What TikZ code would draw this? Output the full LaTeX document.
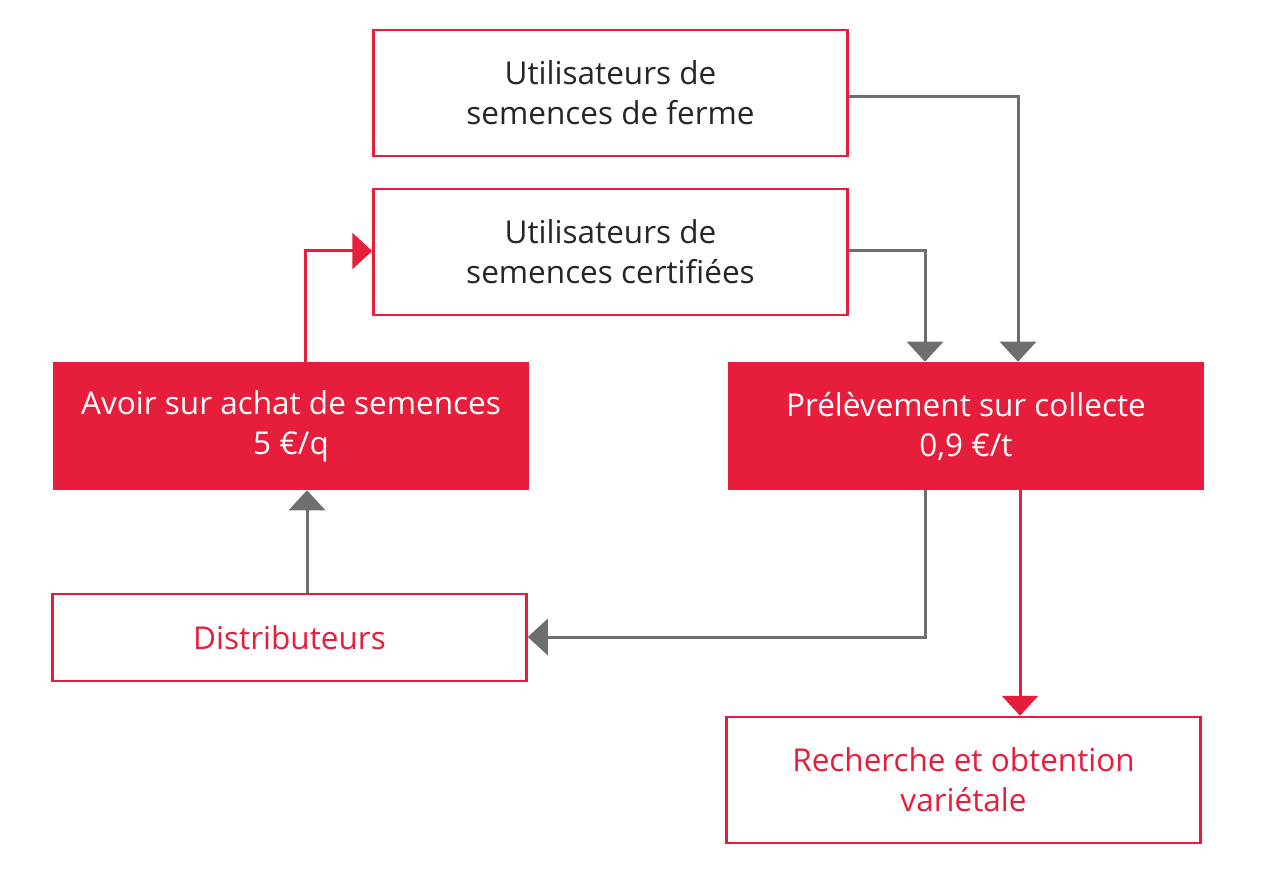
\documentclass[tikz,border=0pt]{standalone}
\usepackage{fontspec}
\setmainfont{Open Sans}
\usetikzlibrary{arrows.meta}
\definecolor{rd}{HTML}{E61E3C}
\definecolor{gr}{HTML}{6E6E6E}
\begin{document}
\begin{tikzpicture}[x=1pt,y=-1pt,
  box/.style={draw=rd,line width=2.5pt,fill=white,minimum width=474pt,minimum height=126pt,inner sep=0pt,align=center,font=\fontsize{31.5}{40}\selectfont,text=black!85},
  fbox/.style={box,fill=rd,text=white},
  rtext/.style={text=rd},
  con/.style={line width=3pt,gr,-{Triangle[length=20pt,width=36pt]}},
  rcon/.style={con,rd}]
\useasboundingbox (0,0) rectangle (1263,882);
\node[box] (ferme) at (610.5,93) {Utilisateurs de\\semences de ferme};
\node[box] (cert) at (610.5,252) {Utilisateurs de\\semences certifiées};
\node[fbox] (avoir) at (291,426) {Avoir sur achat de semences\\5 €/q};
\node[fbox] (prel) at (966,426) {Prélèvement sur collecte\\0,9 €/t};
\node[box,minimum height=87pt,rtext] (dist) at (289.5,637.5) {Distributeurs};
\node[box,rtext] (rech) at (963.5,780) {Recherche et obtention\\variétale};
\draw[con] (ferme.east |- 0,97) -| (prel.north -| 1018,0);
\draw[con] (cert.east |- 0,251) -| (prel.north -| 925,0);
\draw[con] (prel.south -| 925,0) |- (dist.east |- 0,637);
\draw[rcon] (prel.south -| 1020,0) -- (rech.north -| 1020,0);
\draw[con] (dist.north -| 307,0) -- (avoir.south -| 307,0);
\draw[rcon] (avoir.north -| 305,0) |- (cert.west |- 0,251);
\end{tikzpicture}
\end{document}
